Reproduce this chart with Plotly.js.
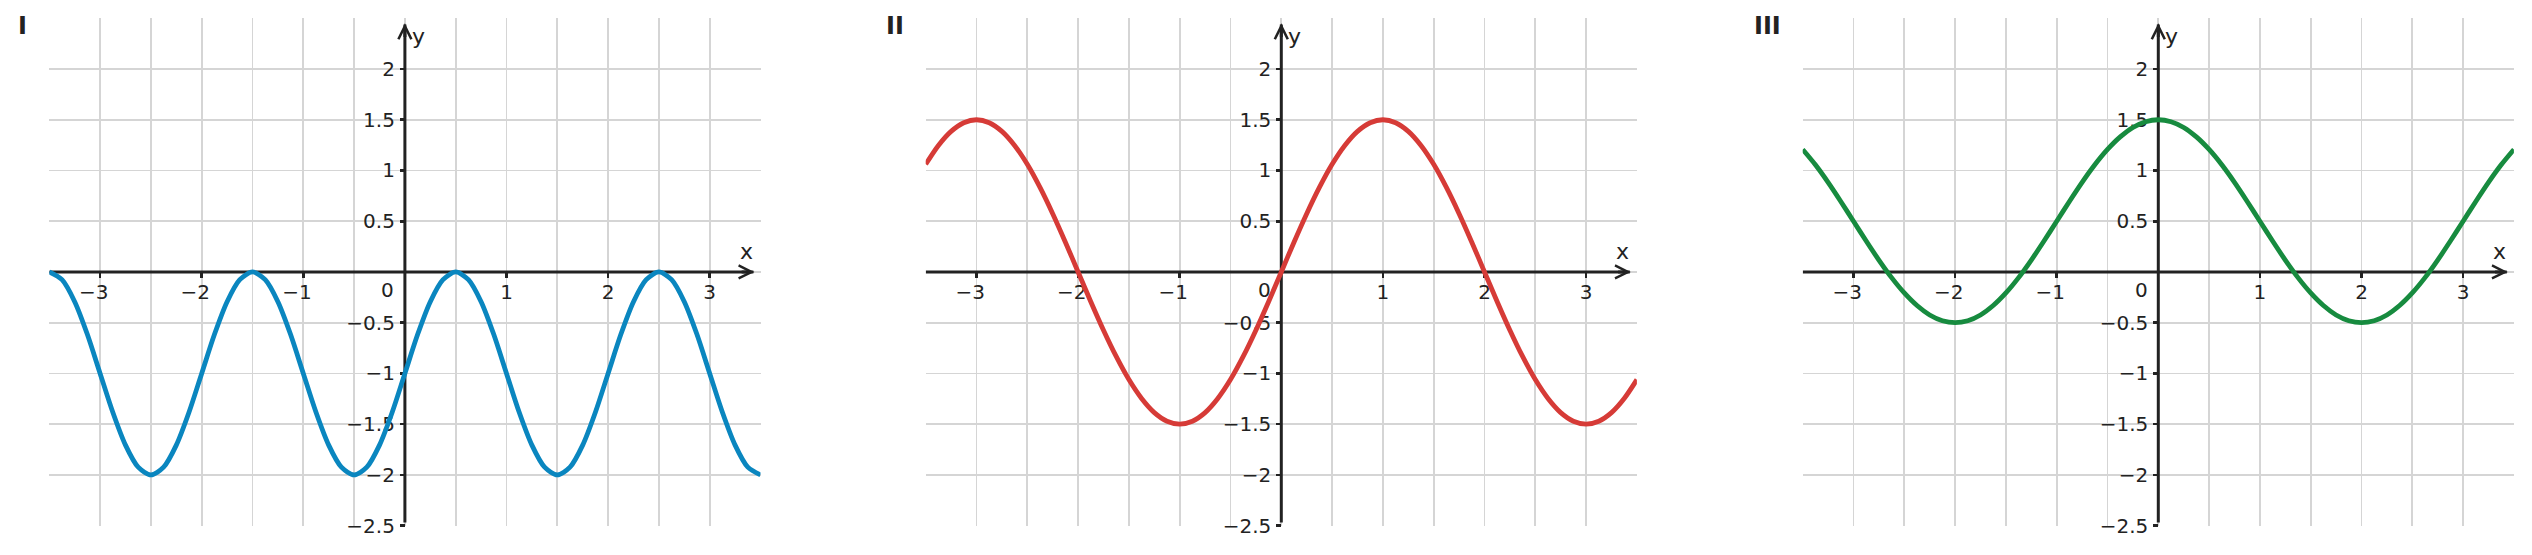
<!DOCTYPE html>
<html>
<head>
<meta charset="utf-8">
<script src="https://cdn.plot.ly/plotly-3.0.1.min.js"></script>
<style>html,body{margin:0;padding:0;background:#fff;}#chart{width:2532px;height:555px;}</style>
</head>
<body>
<div id="chart"></div>
<script>
// ---- data ----
const panelNames = ["I", "II", "III"];
const xValues = [-3.5,-3.375,-3.25,-3.125,-3,-2.875,-2.75,-2.625,-2.5,-2.375,-2.25,-2.125,-2,-1.875,-1.75,-1.625,-1.5,-1.375,-1.25,-1.125,-1,-0.875,-0.75,-0.625,-0.5,-0.375,-0.25,-0.125,0,0.125,0.25,0.375,0.5,0.625,0.75,0.875,1,1.125,1.25,1.375,1.5,1.625,1.75,1.875,2,2.125,2.25,2.375,2.5,2.625,2.75,2.875,3,3.125,3.25,3.375,3.5];
const curveI = [0,-0.076,-0.293,-0.617,-1,-1.383,-1.707,-1.924,-2,-1.924,-1.707,-1.383,-1,-0.617,-0.293,-0.076,
                0,-0.076,-0.293,-0.617,-1,-1.383,-1.707,-1.924,-2,-1.924,-1.707,-1.383,-1,-0.617,-0.293,-0.076,
                0,-0.076,-0.293,-0.617,-1,-1.383,-1.707,-1.924,-2,-1.924,-1.707,-1.383,-1,-0.617,-0.293,-0.076,
                0,-0.076,-0.293,-0.617,-1,-1.383,-1.707,-1.924,-2];
const curveII = [1.061,1.247,1.386,1.471,1.5,1.471,1.386,1.247,1.061,0.833,0.574,0.293,0,-0.293,-0.574,-0.833,
                 -1.061,-1.247,-1.386,-1.471,-1.5,-1.471,-1.386,-1.247,-1.061,-0.833,-0.574,-0.293,0,0.293,0.574,0.833,
                 1.061,1.247,1.386,1.471,1.5,1.471,1.386,1.247,1.061,0.833,0.574,0.293,0,-0.293,-0.574,-0.833,
                 -1.061,-1.247,-1.386,-1.471,-1.5,-1.471,-1.386,-1.247,-1.061];
const curveIII = [1.207,1.056,0.883,0.695,0.5,0.305,0.117,-0.056,-0.207,-0.331,-0.424,-0.481,-0.5,-0.481,-0.424,-0.331,
                  -0.207,-0.056,0.117,0.305,0.5,0.695,0.883,1.056,1.207,1.331,1.424,1.481,1.5,1.481,1.424,1.331,
                  1.207,1.056,0.883,0.695,0.5,0.305,0.117,-0.056,-0.207,-0.331,-0.424,-0.481,-0.5,-0.481,-0.424,-0.331,
                  -0.207,-0.056,0.117,0.305,0.5,0.695,0.883,1.056,1.207];
const curves = [curveI, curveII, curveIII];
const curveColors = ["#0a86bf", "#d63b37", "#178b3f"];

const xTickVals = [-3,-2,-1,1,2,3];
const xTickText = ["−3","−2","−1","1","2","3"];
const yTickVals = [2,1.5,1,0.5,-0.5,-1,-1.5,-2,-2.5];
const yTickText = ["2","1.5","1","0.5","−0.5","−1","−1.5","−2","−2.5"];
const xGridVals = [-3.5,-3,-2.5,-2,-1.5,-1,-0.5,0,0.5,1,1.5,2,2.5,3];
const yGridVals = [-2.5,-2,-1.5,-1,-0.5,0,0.5,1,1.5,2];
const xRange = [-3.5, 3.5];
const yRange = [-2.5, 2.5];
const originLabel = "0";
const axisNames = ["x", "y"];

// ---- layout geometry ----
const W = 2532, H = 555;
const panelLeft = [49.3, 925.7, 1802.7];
const panelW = 711.2;
const plotTop = 18.3, plotBottom = 525.6;
const yDom = [(H - plotBottom) / H, (H - plotTop) / H];
const yMid = (yDom[0] + yDom[1]) / 2;

const ink = "#222222";
const gridColor = "#d5d5d5";
const tickFont = {family: "DejaVu Sans", size: 20, color: ink};

// pad negative x labels so the digit sits on the tick
const xTickShown = xTickText.map(t => t.startsWith("−") ? t + "\u2007" : t);

const data = [];
const layout = {
  width: W, height: H,
  margin: {l: 0, r: 0, t: 0, b: 0, pad: 0},
  paper_bgcolor: "#ffffff", plot_bgcolor: "rgba(0,0,0,0)",
  font: {family: "DejaVu Sans", size: 20, color: ink},
  showlegend: false,
  shapes: [], annotations: []
};

for (let i = 0; i < 3; i++) {
  const n = i + 1;
  const sx = n === 1 ? "" : String(n);
  const xa = "x" + sx, ya = "y" + sx;
  const xDom = [panelLeft[i] / W, (panelLeft[i] + panelW) / W];
  const xMid = (xDom[0] + xDom[1]) / 2;

  data.push({
    type: "scatter", mode: "lines",
    x: xValues, y: curves[i],
    xaxis: xa, yaxis: ya,
    line: {color: curveColors[i], width: 4.8, shape: "spline", smoothing: 0.8},
    hoverinfo: "skip"
  });

  layout["xaxis" + sx] = {
    domain: xDom, range: xRange, fixedrange: true,
    anchor: "free", position: yMid, side: "bottom",
    tickmode: "array", tickvals: xTickVals, ticktext: xTickShown,
    ticks: "outside", ticklen: 5, tickwidth: 2.6, tickcolor: ink,
    tickfont: tickFont, ticklabelstandoff: -3,
    showline: false, zeroline: false,
    showgrid: true, gridcolor: gridColor, gridwidth: 1.7,
    minor: {tickmode: "array", tickvals: xGridVals, showgrid: true, gridcolor: gridColor, gridwidth: 1.7, ticks: ""},
    layer: "below traces"
  };
  layout["yaxis" + sx] = {
    domain: yDom, range: yRange, fixedrange: true,
    anchor: "free", position: xMid, side: "left",
    tickmode: "array", tickvals: yTickVals, ticktext: yTickText,
    ticks: "outside", ticklen: 5, tickwidth: 2.6, tickcolor: ink,
    tickfont: tickFont, ticklabelstandoff: 1,
    showline: false, zeroline: false,
    showgrid: true, gridcolor: gridColor, gridwidth: 1.7,
    minor: {tickmode: "array", tickvals: yGridVals, showgrid: true, gridcolor: gridColor, gridwidth: 1.7, ticks: ""},
    layer: "below traces"
  };
  // overlay axes: inner half of the crossing tick marks
  layout["xaxis" + (n + 3)] = {
    overlaying: xa, range: xRange, fixedrange: true,
    anchor: "free", position: yMid, side: "bottom",
    tickmode: "array", tickvals: xTickVals,
    ticks: "inside", ticklen: 5, tickwidth: 2.6, tickcolor: ink,
    showticklabels: false, showline: false, zeroline: false, showgrid: false,
    layer: "below traces"
  };
  layout["yaxis" + (n + 3)] = {
    overlaying: ya, range: yRange, fixedrange: true,
    anchor: "free", position: xMid, side: "left",
    tickmode: "array", tickvals: yTickVals,
    ticks: "inside", ticklen: 5, tickwidth: 2.6, tickcolor: ink,
    showticklabels: false, showline: false, zeroline: false, showgrid: false,
    layer: "below traces"
  };

  // axis lines (below curves)
  layout.shapes.push({type: "line", xref: xa, yref: ya, x0: xRange[0], x1: 3.43, y0: 0, y1: 0,
    line: {color: ink, width: 3}, layer: "between"});
  layout.shapes.push({type: "line", xref: xa, yref: ya, x0: 0, x1: 0, y0: -2.47, y1: 2.44,
    line: {color: ink, width: 3}, layer: "between"});

  // arrow heads
  layout.annotations.push({xref: xa, yref: ya, x: 3.44, y: 0, axref: xa, ayref: ya, ax: 3.3, ay: 0,
    text: "", showarrow: true, arrowhead: 5, arrowsize: 0.85, arrowwidth: 3, arrowcolor: ink, standoff: 0});
  layout.annotations.push({xref: xa, yref: ya, x: 0, y: 2.45, axref: xa, ayref: ya, ax: 0, ay: 2.3,
    text: "", showarrow: true, arrowhead: 5, arrowsize: 0.85, arrowwidth: 3, arrowcolor: ink, standoff: 0});

  // axis names
  layout.annotations.push({xref: xa, yref: ya, x: 3.36, y: 0.2, text: axisNames[0], showarrow: false,
    xanchor: "center", yanchor: "middle", font: {family: "DejaVu Sans", size: 22, color: ink}});
  layout.annotations.push({xref: xa, yref: ya, x: 0.05, y: 2.32, text: axisNames[1], showarrow: false,
    xanchor: "left", yanchor: "middle", font: {family: "DejaVu Sans", size: 22, color: ink}});

  // origin label
  layout.annotations.push({xref: xa, yref: ya, x: 0, y: 0, text: originLabel, showarrow: false,
    xanchor: "center", yanchor: "middle", xshift: -17, yshift: -18.5, font: tickFont});

  // panel label
  layout.annotations.push({xref: xa + " domain", yref: ya + " domain", x: 0, y: 1, xshift: -20, yshift: -8,
    text: "<b>" + panelNames[i] + "</b>", showarrow: false, xanchor: "right", yanchor: "middle",
    font: {family: "DejaVu Sans", size: 24, color: ink}});
}

Plotly.newPlot("chart", data, layout, {staticPlot: true, displayModeBar: false});
</script>
</body>
</html>
